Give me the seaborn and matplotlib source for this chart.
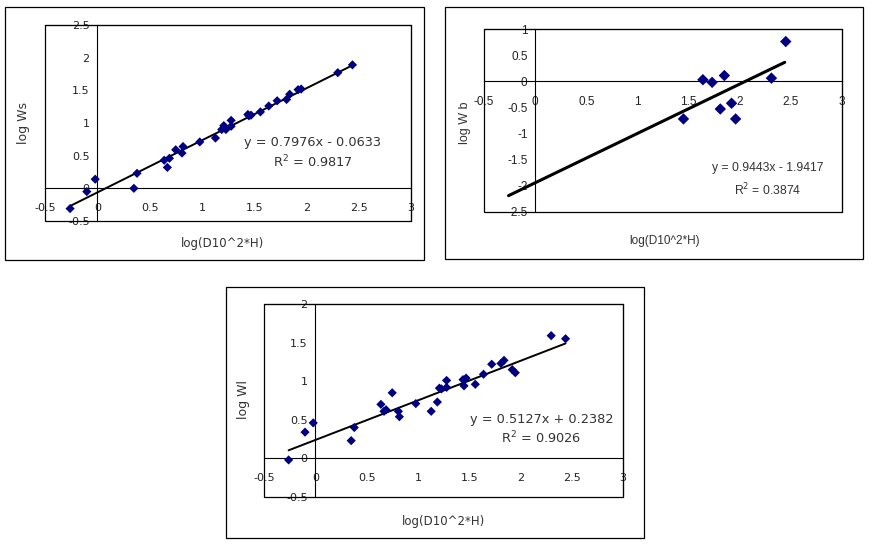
import numpy as np
import pandas as pd
import matplotlib
matplotlib.use('Agg')
import matplotlib.pyplot as plt
from matplotlib.patches import Rectangle
from matplotlib.ticker import FuncFormatter
import seaborn as sns

sns.set_style("white")
plt.rcParams['font.family'] = ['DejaVu Sans']

# log(D10^2*H) of the sample trees (shared by Ws and Wl)
log_d2h = [-0.26, -0.10, -0.02, 0.35, 0.38, 0.64, 0.67, 0.69, 0.75, 0.81,
           0.82, 0.98, 1.13, 1.19, 1.21, 1.23, 1.28, 1.28, 1.44, 1.45,
           1.47, 1.56, 1.64, 1.72, 1.81, 1.84, 1.92, 1.95, 2.30, 2.44]
log_ws = [-0.31, -0.05, 0.14, 0.00, 0.23, 0.43, 0.32, 0.46, 0.59, 0.54,
          0.64, 0.71, 0.77, 0.90, 0.96, 0.90, 0.95, 1.04, 1.13, 1.11,
          1.12, 1.17, 1.26, 1.34, 1.36, 1.44, 1.51, 1.52, 1.77, 1.89]
log_wl = [-0.02, 0.34, 0.46, 0.23, 0.40, 0.70, 0.61, 0.63, 0.85, 0.61,
          0.54, 0.71, 0.61, 0.73, 0.91, 0.90, 1.01, 0.92, 1.02, 0.94,
          1.04, 0.96, 1.09, 1.22, 1.23, 1.27, 1.15, 1.11, 1.59, 1.55]

# branch biomass only for the larger trees
log_d2h_b = [1.45, 1.64, 1.73, 1.81, 1.85, 1.92, 1.96, 2.31, 2.45]
log_wb = [-0.72, 0.03, -0.02, -0.53, 0.11, -0.42, -0.72, 0.06, 0.76]

# regression results printed on the charts
fit_ws = (0.7976, -0.0633, 0.9817)
fit_wb = (0.9443, -1.9417, 0.3874)
fit_wl = (0.5127, 0.2382, 0.9026)

navy = '#000080'
fig_w, fig_h = 876, 547


def px_rect(left, top, right, bottom):
    # pixel box -> figure fraction [l, b, w, h]
    return [left / fig_w, 1 - bottom / fig_h, (right - left) / fig_w, (bottom - top) / fig_h]


def fmt(v, pos):
    return f'{v:g}'


def draw_panel(ax, x, y, fit, ylim, ylabel, eq_pos, label_pos, line_x,
               ms=22, lw=1.4, font='DejaVu Sans', fs_tick=8, fs_eq=9.3, fs_lab=8.5):
    slope, icpt, r2 = fit
    df = pd.DataFrame({'x': x, 'y': y})
    sns.scatterplot(data=df, x='x', y='y', marker='D', s=ms, color=navy,
                    edgecolor='none', ax=ax, zorder=4)
    lx = np.array([min(line_x), max(line_x)])
    sns.lineplot(x=lx, y=slope * lx + icpt, color='black', linewidth=lw, ax=ax, zorder=3)

    ax.set_xlim(-0.5, 3)
    ax.set_ylim(*ylim)
    ax.set_xticks(np.arange(-0.5, 3.01, 0.5))
    ax.set_yticks(np.arange(ylim[0], ylim[1] + 0.01, 0.5))
    ax.xaxis.set_major_formatter(FuncFormatter(fmt))
    ax.yaxis.set_major_formatter(FuncFormatter(fmt))

    # axes cross at zero like the spreadsheet chart
    ax.spines['left'].set_position(('data', 0))
    ax.spines['bottom'].set_position(('data', 0))
    for s in ax.spines.values():
        s.set_color('black')
        s.set_linewidth(0.8)
    ax.add_patch(Rectangle((0, 0), 1, 1, transform=ax.transAxes, fill=False,
                           ec='black', lw=0.9, clip_on=False, zorder=5))
    ax.tick_params(axis='x', direction='out', length=3, width=0.8, pad=7.5,
                   labelsize=fs_tick, colors='#222222')
    ax.tick_params(axis='y', direction='out', length=3, width=0.8, pad=2.5,
                   labelsize=fs_tick, colors='#222222')
    for t in ax.get_xticklabels() + ax.get_yticklabels():
        t.set_family(font)
    ax.grid(False)

    ax.set_xlabel('log(D10^2*H)', fontsize=fs_lab, color='#333333', family=font, va='top')
    ax.set_ylabel(ylabel, fontsize=fs_lab + 0.5, color='#333333', family=font)
    ax.xaxis.set_label_coords(label_pos[0], label_pos[1])
    ax.yaxis.set_label_coords(label_pos[2], label_pos[3])

    sign = '-' if icpt < 0 else '+'
    ax.text(eq_pos[0], eq_pos[1], f'y = {slope:.4f}x {sign} {abs(icpt):.4f}',
            transform=ax.transAxes, ha='center', va='center', fontsize=fs_eq,
            color='#333333', family=font)
    ax.text(eq_pos[0], eq_pos[2], f'R$^2$ = {r2:.4f}',
            transform=ax.transAxes, ha='center', va='center', fontsize=fs_eq,
            color='#333333', family=font)


fig = plt.figure(figsize=(fig_w / 100, fig_h / 100), dpi=100)
fig.patch.set_facecolor('white')

# outer chart frames
for box in [(5, 7, 424, 260), (445, 7, 863, 259), (226, 287, 644, 538)]:
    l, b, w, h = px_rect(*box)
    fig.add_artist(Rectangle((l, b), w, h, transform=fig.transFigure, fill=False,
                             ec='black', lw=0.9))

ax1 = fig.add_axes(px_rect(45, 25, 411, 221))
draw_panel(ax1, log_d2h, log_ws, fit_ws, (-0.5, 2.5), 'log Ws',
           eq_pos=(0.732, 0.398, 0.301), label_pos=(0.486, -0.08, -0.041, 0.5),
           line_x=log_d2h)

ax2 = fig.add_axes(px_rect(484, 29, 842, 212))
draw_panel(ax2, log_d2h_b, log_wb, fit_wb, (-2.5, 1), 'log W b',
           eq_pos=(0.793, 0.238, 0.119), label_pos=(0.505, -0.128, -0.035, 0.486),
           line_x=log_d2h, ms=34, lw=2.2, font='Liberation Sans',
           fs_tick=8.5, fs_eq=8.7, fs_lab=8.5)

ax3 = fig.add_axes(px_rect(264, 304, 623, 497))
draw_panel(ax3, log_d2h, log_wl, fit_wl, (-0.5, 2), 'log Wl',
           eq_pos=(0.773, 0.40, 0.305), label_pos=(0.499, -0.092, -0.04, 0.503),
           line_x=log_d2h)

fig.savefig('out.png', dpi=100, facecolor='white')
